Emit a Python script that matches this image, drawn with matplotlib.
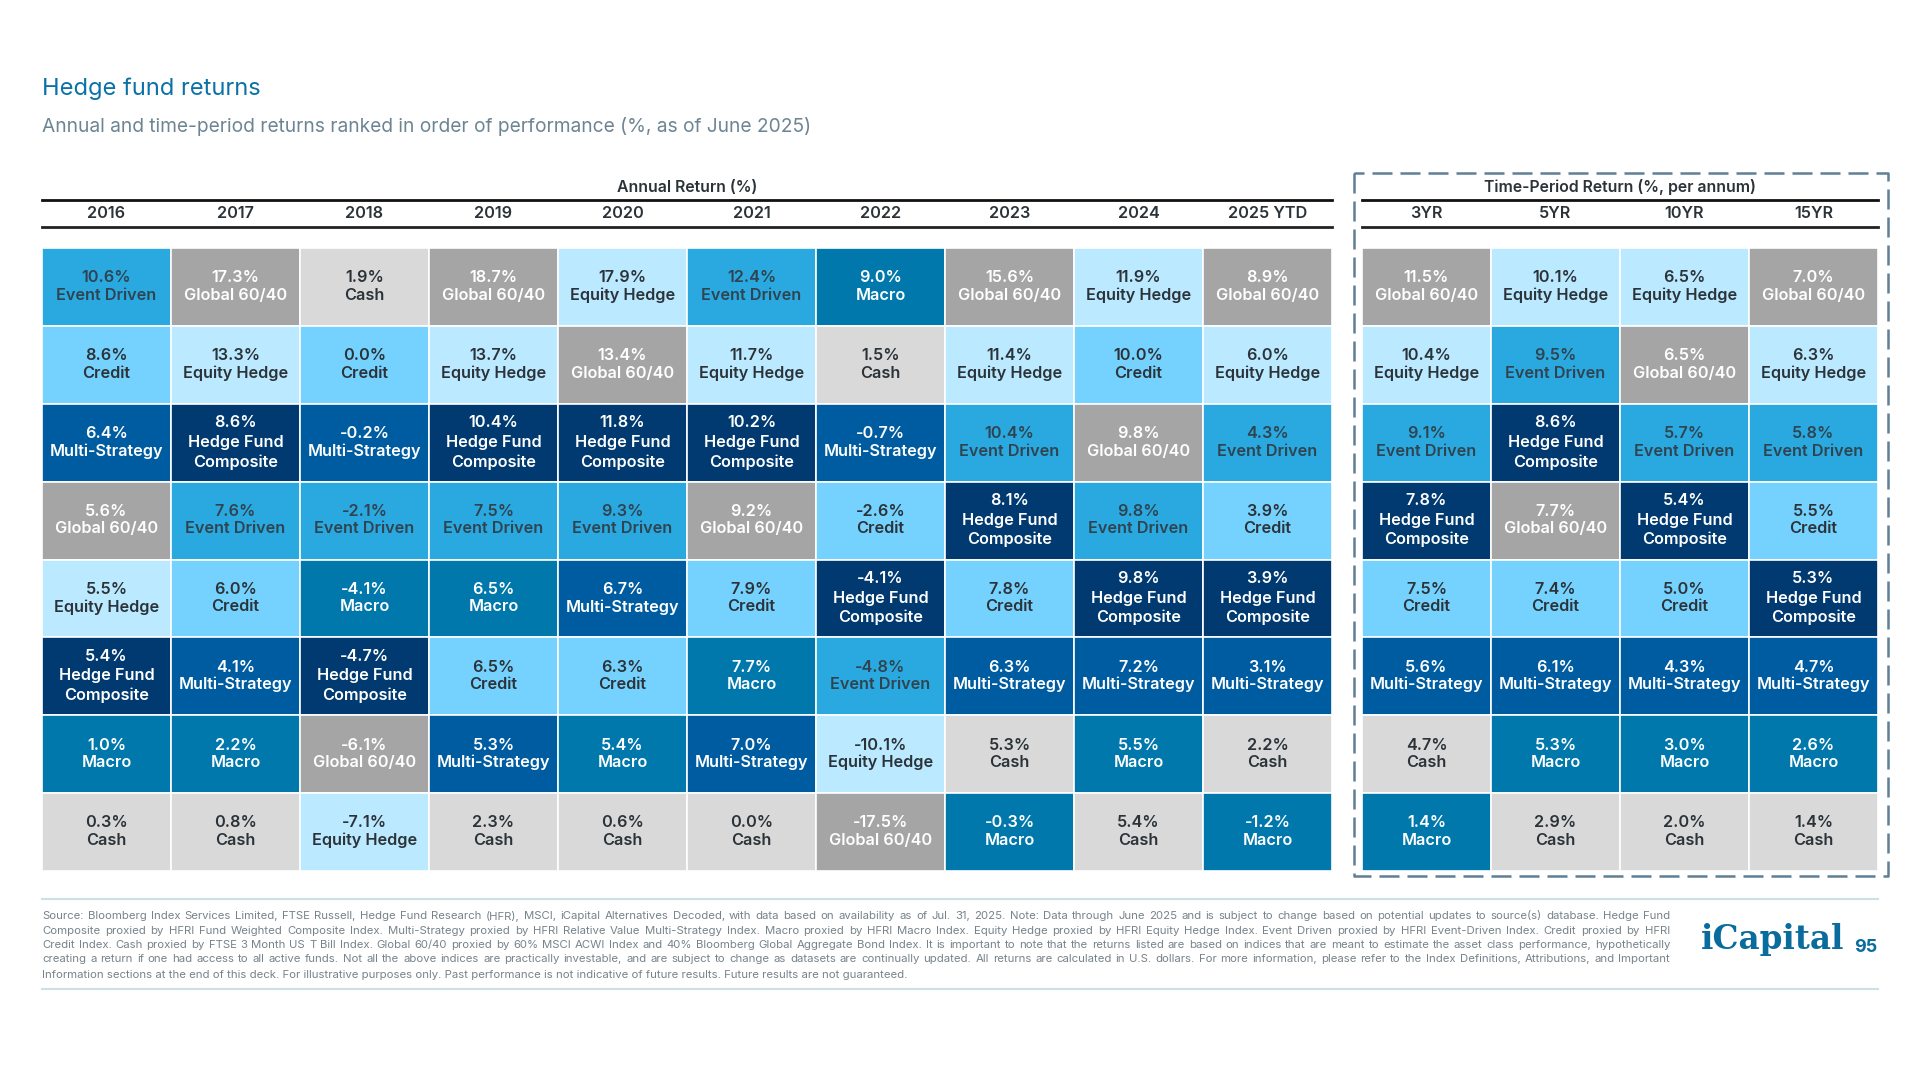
import matplotlib
matplotlib.use('Agg')
import matplotlib.pyplot as plt

plt.rcParams['font.family'] = ['Inter', 'DejaVu Sans']

ED, GL, CA, CR, EH, MS, HF, MA = 'Event Driven', 'Global 60/40', 'Cash', 'Credit', 'Equity Hedge', 'Multi-Strategy', 'Hedge Fund\nComposite', 'Macro'

years = ['2016', '2017', '2018', '2019', '2020', '2021', '2022', '2023', '2024', '2025 YTD']
annual_values = [
    [10.6, 8.6, 6.4, 5.6, 5.5, 5.4, 1.0, 0.3],
    [17.3, 13.3, 8.6, 7.6, 6.0, 4.1, 2.2, 0.8],
    [1.9, 0.0, -0.2, -2.1, -4.1, -4.7, -6.1, -7.1],
    [18.7, 13.7, 10.4, 7.5, 6.5, 6.5, 5.3, 2.3],
    [17.9, 13.4, 11.8, 9.3, 6.7, 6.3, 5.4, 0.6],
    [12.4, 11.7, 10.2, 9.2, 7.9, 7.7, 7.0, 0.0],
    [9.0, 1.5, -0.7, -2.6, -4.1, -4.8, -10.1, -17.5],
    [15.6, 11.4, 10.4, 8.1, 7.8, 6.3, 5.3, -0.3],
    [11.9, 10.0, 9.8, 9.8, 9.8, 7.2, 5.5, 5.4],
    [8.9, 6.0, 4.3, 3.9, 3.9, 3.1, 2.2, -1.2],
]
annual_names = [
    [ED, CR, MS, GL, EH, HF, MA, CA],
    [GL, EH, HF, ED, CR, MS, MA, CA],
    [CA, CR, MS, ED, MA, HF, GL, EH],
    [GL, EH, HF, ED, MA, CR, MS, CA],
    [EH, GL, HF, ED, MS, CR, MA, CA],
    [ED, EH, HF, GL, CR, MA, MS, CA],
    [MA, CA, MS, CR, HF, ED, EH, GL],
    [GL, EH, ED, HF, CR, MS, CA, MA],
    [EH, CR, GL, ED, HF, MS, MA, CA],
    [GL, EH, ED, CR, HF, MS, CA, MA],
]

periods = ['3YR', '5YR', '10YR', '15YR']
period_values = [
    [11.5, 10.4, 9.1, 7.8, 7.5, 5.6, 4.7, 1.4],
    [10.1, 9.5, 8.6, 7.7, 7.4, 6.1, 5.3, 2.9],
    [6.5, 6.5, 5.7, 5.4, 5.0, 4.3, 3.0, 2.0],
    [7.0, 6.3, 5.8, 5.5, 5.3, 4.7, 2.6, 1.4],
]
period_names = [
    [GL, EH, ED, HF, CR, MS, CA, MA],
    [EH, ED, HF, GL, CR, MS, MA, CA],
    [EH, GL, ED, HF, CR, MS, MA, CA],
    [GL, EH, ED, CR, HF, MS, MA, CA],
]

fill = {ED: '#2AA9E0', GL: '#A5A5A5', CA: '#D9D9D9', CR: '#75D1FD',
        EH: '#BBE9FF', MS: '#005CA0', HF: '#003A70', MA: '#0078AC'}
ink = {ED: '#2F4450', GL: '#FFFFFF', CA: '#2B3338', CR: '#2B3338',
       EH: '#2B3338', MS: '#FFFFFF', HF: '#FFFFFF', MA: '#FFFFFF'}

notes = [
    'Source: Bloomberg Index Services Limited, FTSE Russell, Hedge Fund Research (HFR), MSCI, iCapital Alternatives Decoded, with data based on availability as of Jul. 31, 2025. Note: Data through June 2025 and is subject to change based on potential updates to source(s) database. Hedge Fund',
    'Composite proxied by HFRI Fund Weighted Composite Index. Multi-Strategy proxied by HFRI Relative Value Multi-Strategy Index. Macro proxied by HFRI Macro Index. Equity Hedge proxied by HFRI Equity Hedge Index. Event Driven proxied by HFRI Event-Driven Index. Credit proxied by HFRI',
    'Credit Index. Cash proxied by FTSE 3 Month US T Bill Index. Global 60/40 proxied by 60% MSCI ACWI Index and 40% Bloomberg Global Aggregate Bond Index. It is important to note that the returns listed are based on indices that are meant to estimate the asset class performance, hypothetically',
    'creating a return if one had access to all active funds. Not all the above indices are practically investable, and are subject to change as datasets are continually updated. All returns are calculated in U.S. dollars. For more information, please refer to the Index Definitions, Attributions, and Important',
    'Information sections at the end of this deck. For illustrative purposes only. Past performance is not indicative of future results. Future results are not guaranteed.',
]

W, H = 1920, 1080
fig = plt.figure(figsize=(W / 100, H / 100), dpi=100)

# page axes in pixels, for titles, rules and footer
page = fig.add_axes([0, 0, 1, 1])
page.set_xlim(0, W)
page.set_ylim(H, 0)
page.axis('off')


def draw_grid(box, values, names):
    x0, x1, y0, y1 = box
    ax = fig.add_axes([x0 / W, 1 - y1 / H, (x1 - x0) / W, (y1 - y0) / H])
    ax.set_xlim(-0.5, len(values) - 0.5)
    ax.set_ylim(7.5, -0.5)
    ax.axis('off')
    for c, (col_vals, col_names) in enumerate(zip(values, names)):
        ax.bar([c] * 8, [1] * 8, bottom=[r - 0.5 for r in range(8)], width=1,
               color=[fill[n] for n in col_names], edgecolor='white', linewidth=1.2)
        for r, (v, n) in enumerate(zip(col_vals, col_names)):
            rows = [f'{v:.1f}%'] + n.split('\n')
            step = 0.25 if len(rows) == 3 else 0.225
            for i, t in enumerate(rows):
                ax.text(c, r + (i - (len(rows) - 1) / 2) * step - 0.005, t, ha='center', va='center',
                        fontsize=11.7, fontweight=600, color=ink[n])


def draw_header(x0, x1, n, title, labels):
    page.plot([x0, x1], [200, 200], color='#111111', lw=2)
    page.plot([x0, x1], [227, 227], color='#222222', lw=2)
    page.text((x0 + x1) / 2, 187, title, ha='center', va='center', fontsize=11.4, fontweight=600, color='#2B3338')
    pitch = (x1 - x0) / n
    for i, lab in enumerate(labels):
        page.text(x0 + (i + 0.5) * pitch, 213.5, lab, ha='center', va='center',
                  fontsize=11.7, fontweight=600, color='#2B3338')


def justify_line(line, x0, x1, y, size):
    # word by word so that the right edge lines up, the way the slide does it
    words = line.split(' ')
    rend = fig.canvas.get_renderer()
    items = [page.text(0, y, w, fontsize=size, color='#77838B', va='center') for w in words]
    widths = [t.get_window_extent(rend).width for t in items]
    gap = (x1 - x0 - sum(widths)) / (len(words) - 1)
    x = x0
    for t, w in zip(items, widths):
        t.set_x(x)
        x += w + gap


page.text(42, 89, 'Hedge fund returns', fontsize=17, color='#0A72A8', va='center')
page.text(42, 127, 'Annual and time-period returns ranked in order of performance (%, as of June 2025)',
          fontsize=13.8, color='#6D8593', va='center')

draw_header(42, 1332, 10, 'Annual Return (%)', years)
draw_header(1362, 1878, 4, 'Time-Period Return (%, per annum)', periods)

draw_grid((42, 1332, 248, 871), annual_values, annual_names)
draw_grid((1362, 1878, 248, 871), period_values, period_names)

page.plot([1353.5, 1353.5, 1888, 1888, 1353.5], [172.5, 875.5, 875.5, 172.5, 172.5], color='#5E7F95', lw=1.8,
          dashes=(8, 3.2))

page.plot([42, 1878], [899, 899], color='#CFDFE6', lw=1.5)
page.plot([42, 1878], [989, 989], color='#CFDFE6', lw=1.5)

note_y = [916, 930.5, 945, 959.5, 974.5]
for k, line in enumerate(notes):
    if k < len(notes) - 1:
        justify_line(line, 42, 1670, note_y[k], 8.2)
    else:
        page.text(42, note_y[k], line, fontsize=8.2, color='#77838B', va='center')

page.text(1701, 940, 'iCapital', fontsize=23.5, fontweight='bold', color='#0A6C9C', va='center',
          family='DejaVu Serif')
page.text(1877, 947, '95', fontsize=13, fontweight='bold', color='#0A6C9C', va='center', ha='right')

fig.savefig('out.png', dpi=100)
